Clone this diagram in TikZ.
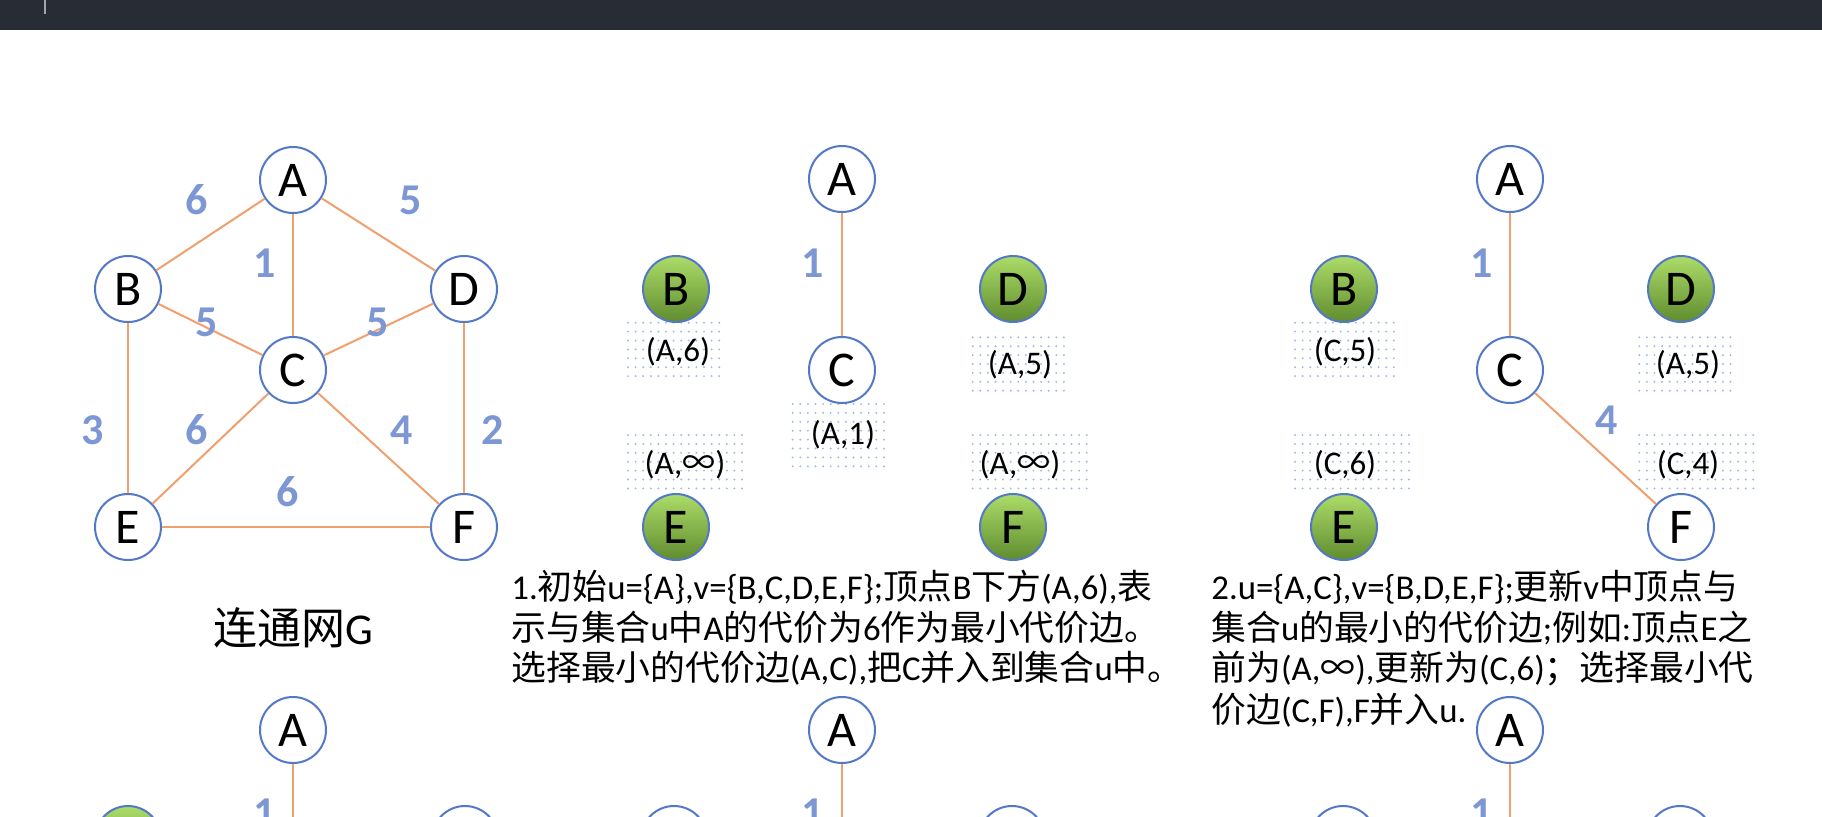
\documentclass[tikz,border=0pt]{standalone}
\usepackage{fontspec}
\setmainfont{Carlito}
\newfontfamily\cjk{Noto Sans CJK SC}
\newcommand\zh[1]{{\cjk #1}}
\definecolor{nodeblue}{RGB}{84,120,200}
\definecolor{edgeor}{RGB}{240,160,110}
\definecolor{wblue}{RGB}{125,150,212}
\definecolor{dotc}{RGB}{160,188,228}
\definecolor{gtop}{RGB}{172,220,105}
\definecolor{gbot}{RGB}{96,140,46}
\definecolor{barc}{RGB}{40,44,52}
\definecolor{sepc}{RGB}{160,166,178}
\newcommand\dotbox[4]{%
  \foreach \ii in {0,...,#3}{\foreach \jj in {0,...,#4}{%
    \fill[dotc] ({#1+\ii*7.6},{#2+\jj*8.9}) circle (0.55pt);}}}
\begin{document}
\begin{tikzpicture}[x=0.5pt,y=-0.5pt,
  vtx/.style={circle,draw=nodeblue,line width=1pt,minimum size=33pt,inner sep=0pt,fill=white,font=\fontsize{25}{25}\selectfont},
  gv/.style={vtx,top color=gtop,bottom color=gbot},
  edge/.style={draw=edgeor,line width=1pt},
  wt/.style={text=wblue,inner sep=0pt,font=\fontsize{22}{22}\selectfont\bfseries},
  cost/.style={inner sep=0pt,font=\fontsize{16.5}{16.5}\selectfont},
  desc/.style={anchor=base west,inner sep=0pt,font=\fontsize{17.4}{17.4}\selectfont},
]
\useasboundingbox (0,0) rectangle (1822,816);
\clip (0,0) rectangle (1822,816);
\fill[white] (0,0) rectangle (1822,816);
% top bar
\fill[barc] (0,0) rectangle (1822,30);
\draw[sepc,line width=0.6pt] (45,0) -- (45,14);

% ---------- panel 1 : graph G ----------
\node[vtx] (A1) at (293,180) {A};
\node[vtx] (B1) at (128,289) {B};
\node[vtx] (D1) at (464,289) {D};
\node[vtx] (C1) at (293,370) {C};
\node[vtx] (E1) at (128,527) {E};
\node[vtx] (F1) at (464,527) {F};
\draw[edge] (A1) -- (B1);
\draw[edge] (A1) -- (D1);
\draw[edge] (A1) -- (C1);
\draw[edge] (B1) -- (C1);
\draw[edge] (C1) -- (D1);
\draw[edge] (B1) -- (E1);
\draw[edge] (C1) -- (E1);
\draw[edge] (C1) -- (F1);
\draw[edge] (D1) -- (F1);
\draw[edge] (E1) -- (F1);
\node[wt] (wAB) at (197,200) {6};
\node[wt] (wAD) at (411,200) {5};
\node[wt] (wAC) at (265,263) {1};
\node[wt] (wBC) at (207,322) {5};
\node[wt] (wCD) at (378,322) {5};
\node[wt] (wBE) at (93,430) {3};
\node[wt] (wCE) at (197,430) {6};
\node[wt] (wCF) at (402,430) {4};
\node[wt] (wDF) at (493,430) {2};
\node[wt] (wEF) at (288,492) {6};
\node[font=\fontsize{22}{22}\selectfont] (title) at (293,628) {\zh{连通网}G};

% ---------- panel 2 ----------
\dotbox{628}{322.7}{12}{6}
\dotbox{972.7}{337.3}{12}{6}
\dotbox{792.7}{404}{12}{7}
\dotbox{628}{435}{15}{6}
\dotbox{972.7}{435}{15}{6}
\node[vtx] (A2) at (842,179) {A};
\node[gv] (B2) at (676,289) {B};
\node[gv] (D2) at (1013,289) {D};
\node[vtx] (C2) at (842,370) {C};
\node[gv] (E2) at (676,527) {E};
\node[gv] (F2) at (1013,527) {F};
\draw[edge] (A2) -- (C2);
\node[wt] (w2AC) at (813,263) {1};
\node[cost] (c2B) at (678,352) {(A,6)};
\node[cost] (c2D) at (1020,365) {(A,5)};
\node[cost] (c2C) at (843,435) {(A,1)};
\node[cost] (c2E) at (685,465) {(A,\zh{∞})};
\node[cost] (c2F) at (1020,465) {(A,\zh{∞})};
\node[desc] (t2a) at (511,599) {1.\zh{初始}u=\{A\},v=\{B,C,D,E,F\};\zh{顶点}B\zh{下方}(A,6),\zh{表}};
\node[desc] (t2b) at (511,640) {\zh{示与集合}u\zh{中}A\zh{的代价为}6\zh{作为最小代价边。}};
\node[desc] (t2c) at (511,680) {\zh{选择最小的代价边}(A,C),\zh{把}C\zh{并入到集合}u\zh{中。}};

% ---------- panel 3 ----------
\dotbox{1295}{322.7}{13}{6}
\dotbox{1639.3}{337.3}{12}{6}
\dotbox{1295}{435}{15}{6}
\dotbox{1639.3}{435}{15}{6}
\node[vtx] (A3) at (1510,179) {A};
\node[gv] (B3) at (1344,289) {B};
\node[gv] (D3) at (1681,289) {D};
\node[vtx] (C3) at (1510,370) {C};
\node[gv] (E3) at (1344,527) {E};
\node[vtx] (F3) at (1681,527) {F};
\draw[edge] (A3) -- (C3);
\draw[edge] (C3) -- (F3);
\node[wt] (w3AC) at (1482,263) {1};
\node[wt] (w3CF) at (1607,420) {4};
\node[cost] (c3B) at (1345,352) {(C,5)};
\node[cost] (c3D) at (1688,365) {(A,5)};
\node[cost] (c3E) at (1345,465) {(C,6)};
\node[cost] (c3F) at (1688,465) {(C,4)};
\node[desc] (t3a) at (1211,599) {2.u=\{A,C\},v=\{B,D,E,F\};\zh{更新}v\zh{中顶点与}};
\node[desc] (t3b) at (1211,640) {\zh{集合}u\zh{的最小的代价边};\zh{例如}:\zh{顶点}E\zh{之}};
\node[desc] (t3c) at (1211,680) {\zh{前为}(A,\zh{∞}),\zh{更新为}(C,6)\zh{；选择最小代}};
\node[desc] (t3d) at (1211,722) {\zh{价边}(C,F),F\zh{并入}u.};

% ---------- bottom row (cut off) ----------
\node[vtx] (A4) at (293,730) {A};
\node[vtx] (C4) at (293,920) {};
\node[gv] (B4) at (128,839) {};
\node[vtx] (D4) at (465,839) {};
\draw[edge] (A4) -- (C4);
\node[wt] (w4) at (265,813) {1};
\node[vtx] (A5) at (842,730) {A};
\node[vtx] (C5) at (842,920) {};
\node[vtx] (B5) at (674,839) {};
\node[vtx] (D5) at (1012,839) {};
\draw[edge] (A5) -- (C5);
\node[wt] (w5) at (813,813) {1};
\node[vtx] (A6) at (1510,730) {A};
\node[vtx] (C6) at (1510,920) {};
\node[vtx] (B6) at (1343,839) {};
\node[vtx] (D6) at (1680,839) {};
\draw[edge] (A6) -- (C6);
\node[wt] (w6) at (1482,813) {1};
\end{tikzpicture}
\end{document}
